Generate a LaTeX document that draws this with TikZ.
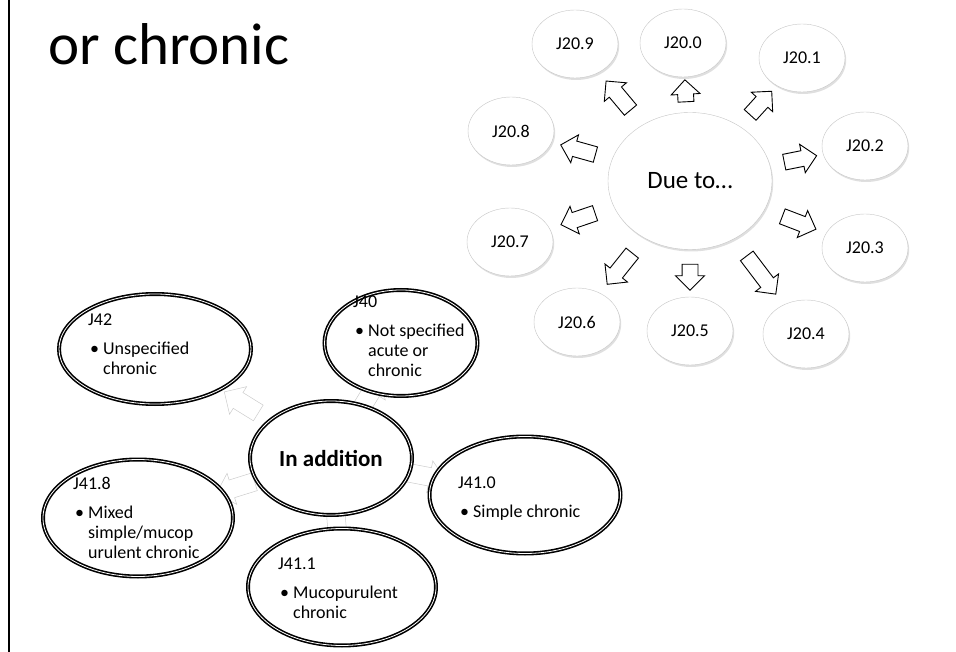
\documentclass[tikz,border=0pt]{standalone}
\usepackage{fontspec}
\setmainfont{Carlito}
\usepackage{tikz}
\usetikzlibrary{positioning}
\usetikzlibrary{shapes.geometric}
\usetikzlibrary{shapes.arrows}
\usetikzlibrary{shadows}
\usetikzlibrary{backgrounds}
\tikzstyle{every node}+=[inner sep=0pt]
\tikzstyle{code} = [ellipse, draw=gray!45, fill=white, minimum width=86pt, minimum height=68pt, font=\fontsize{18}{20}\selectfont, drop shadow={shadow xshift=1.2pt, shadow yshift=-2pt, opacity=0.25}]
\tikzstyle{hub} = [code, minimum width=164pt, minimum height=137pt, font=\fontsize{25}{28}\selectfont]
\tikzstyle{darrow} = [single arrow, draw=black, fill=white, line width=0.9pt, inner ysep=7.5pt, single arrow head extend=6.5pt, sloped, allow upside down]
\tikzstyle{ring} = [ellipse, draw=black, double=white, double distance=0.8pt, line width=1.6pt, fill=white]
\tikzstyle{garrow} = [single arrow, draw=gray!40, fill=white, line width=0.5pt, minimum height=40pt, inner ysep=9pt, single arrow head extend=7pt, sloped, allow upside down]
\tikzstyle{value} = [anchor=base west, font=\fontsize{18}{20}\selectfont]
\newcommand{\codelist}[2]{\begin{tabular}[t]{@{\hspace{2pt}}l@{\hspace{4pt}}l@{}}\multicolumn{2}{@{}l@{}}{#1}\\[9pt]#2\end{tabular}}

\begin{document}
\begin{tikzpicture}[x=1pt, y=-1pt]
            \useasboundingbox (0,0) rectangle (956,652);
            % Slide frame and title
            \draw [line width=2pt] (9,0) -- (9,652);
            \node [anchor=base west, font=\fontsize{59}{70}\selectfont] (title) at (48,65) {or chronic};
            % Place nodes: acute causes
            \node [hub] (due) at (690,181) {Due to…};
            \node [code] (j209) at (575,44) {J20.9};
            \node [code] (j200) at (683,43) {J20.0};
            \node [code] (j201) at (802,58) {J20.1};
            \node [code] (j202) at (865,146) {J20.2};
            \node [code] (j203) at (865,248) {J20.3};
            \node [code] (j204) at (806,334) {J20.4};
            \node [code] (j205) at (690,331) {J20.5};
            \node [code] (j206) at (577,322) {J20.6};
            \node [code] (j207) at (510,242) {J20.7};
            \node [code] (j208) at (511,131) {J20.8};
            % Draw arrows
            \path (due) -- (j200) node [darrow, midway, minimum height=22pt] (a0) {};
            \path (due) -- (j201) node [darrow, midway, minimum height=32pt] (a1) {};
            \path (due) -- (j202) node [darrow, midway, minimum height=33pt] (a2) {};
            \path (due) -- (j203) node [darrow, midway, minimum height=36pt] (a3) {};
            \path (due) -- (j204) node [darrow, midway, minimum height=48pt] (a4) {};
            \path (due) -- (j205) node [darrow, midway, minimum height=26pt] (a5) {};
            \path (due) -- (j206) node [darrow, midway, minimum height=40pt] (a6) {};
            \path (due) -- (j207) node [darrow, midway, minimum height=36pt] (a7) {};
            \path (due) -- (j208) node [darrow, midway, minimum height=36pt] (a8) {};
            \path (due) -- (j209) node [darrow, midway, minimum height=38pt] (a9) {};
            % Place nodes: chronic forms
            \node [ring, minimum width=162pt, minimum height=114pt, font=\fontsize{23}{26}\selectfont\bfseries] (add) at (331,458) {In addition};
            \node [ring, minimum width=192pt, minimum height=110pt] (j42) at (155,349) {};
            \node [ring, minimum width=153pt, minimum height=106pt] (j40) at (401,343) {};
            \node [ring, minimum width=191pt, minimum height=117pt] (j410) at (525,495) {};
            \node [ring, minimum width=188pt, minimum height=117pt] (j411) at (342,587) {};
            \node [ring, minimum width=190pt, minimum height=117pt] (j418) at (138,518) {};
            \node [value] (t42) at (88,326) {\codelist{J42}{\textbullet & Unspecified\\ & chronic}};
            \node [value] (t40) at (353,308) {\codelist{J40}{\textbullet & Not specified\\ & acute or\\ & chronic}};
            \node [value] (t410) at (458,488) {\codelist{J41.0}{\textbullet & Simple chronic}};
            \node [value] (t411) at (278,569) {\codelist{J41.1}{\textbullet & Mucopurulent\\ & chronic}};
            \node [value] (t418) at (73,489) {\codelist{J41.8}{\textbullet & Mixed\\ & simple/mucop\\ & urulent chronic}};
            % Draw arrows behind the rings
            \begin{pgfonlayer}{background}
            \path (add) -- (j42) node [garrow, midway] (b42) {};
            \path (add) -- (j40) node [garrow, midway] (b40) {};
            \path (add) -- (j410) node [garrow, midway] (b410) {};
            \path (add) -- (j411) node [garrow, midway] (b411) {};
            \path (add) -- (j418) node [garrow, midway] (b418) {};
            \end{pgfonlayer}
          \end{tikzpicture}
\end{document}
